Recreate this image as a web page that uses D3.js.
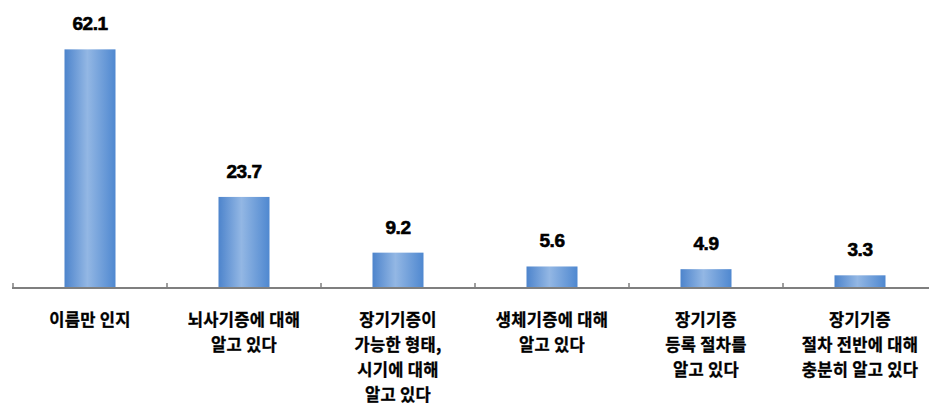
<!DOCTYPE html>
<html>
<head>
<meta charset="utf-8">
<script src="https://cdn.jsdelivr.net/npm/d3@7"></script>
<style>
  html, body { margin: 0; padding: 0; background: #fff; }
  svg { display: block; }
</style>
</head>
<body>
<svg id="chart" width="929" height="408"></svg>
<script>
const categories = [
  ["이름만 인지"],
  ["뇌사기증에 대해", "알고 있다"],
  ["장기기증이", "가능한 형태,", "시기에 대해", "알고 있다"],
  ["생체기증에 대해", "알고 있다"],
  ["장기기증", "등록 절차를", "알고 있다"],
  ["장기기증", "절차 전반에 대해", "충분히 알고 있다"]
];
const values = [62.1, 23.7, 9.2, 5.6, 4.9, 3.3];
const valueLabels = ["62.1", "23.7", "9.2", "5.6", "4.9", "3.3"];

const svg = d3.select("#chart");
const axisY = 288;
const x = d3.scaleBand().domain(d3.range(categories.length)).range([13, 937]).paddingInner(0).paddingOuter(0);
const y = d3.scaleLinear().domain([0, 70]).range([axisY, 19]);
const barW = 51;

const defs = svg.append("defs");
const grad = defs.append("linearGradient").attr("id", "barGrad").attr("x1", "0").attr("x2", "1").attr("y1", "0").attr("y2", "0");
grad.append("stop").attr("offset", "0%").attr("stop-color", "#4d84cc");
grad.append("stop").attr("offset", "45%").attr("stop-color", "#93b7e4");
grad.append("stop").attr("offset", "100%").attr("stop-color", "#4f88d0");

const g = svg.append("g");

g.selectAll("rect.bar").data(values).enter().append("rect")
  .attr("class", "bar")
  .attr("x", (d, i) => x(i) + x.bandwidth() / 2 - barW / 2)
  .attr("y", d => y(d))
  .attr("width", barW)
  .attr("height", d => axisY - y(d))
  .attr("fill", "url(#barGrad)");

// value labels above bars
g.selectAll("text.val").data(values).enter().append("text")
  .attr("class", "val")
  .attr("x", (d, i) => x(i) + x.bandwidth() / 2)
  .attr("y", d => y(d) - 19)
  .attr("text-anchor", "middle")
  .attr("font-family", "'Liberation Sans Narrow', 'Liberation Sans', sans-serif")
  .attr("font-weight", "bold")
  .attr("font-size", 19)
  .attr("letter-spacing", "-0.5px")
  .attr("stroke", "#000")
  .attr("stroke-width", 0.6)
  .attr("fill", "#000")
  .text((d, i) => valueLabels[i]);

// category axis
const axisG = g.append("g").attr("transform", `translate(0,${axisY})`);
axisG.append("line").attr("x1", 12).attr("x2", 929).attr("y1", 0).attr("y2", 0)
  .attr("stroke", "#7f7f7f").attr("stroke-width", 2);
axisG.selectAll("line.tick").data(d3.range(categories.length)).enter().append("line")
  .attr("class", "tick")
  .attr("x1", i => x(i)).attr("x2", i => x(i))
  .attr("y1", 0).attr("y2", -5)
  .attr("stroke", "#7f7f7f").attr("stroke-width", 1.5);

const labels = axisG.selectAll("text.cat").data(categories).enter().append("text")
  .attr("class", "cat")
  .attr("text-anchor", "middle")
  .attr("font-family", "'Noto Sans CJK KR', sans-serif")
  .attr("font-weight", "bold")
  .attr("font-size", 16.5)
  .attr("letter-spacing", "0.3px")
  .attr("stroke", "#000")
  .attr("stroke-width", 0.3)
  .attr("fill", "#000");
labels.each(function(lines, i) {
  const t = d3.select(this);
  lines.forEach((ln, k) => {
    t.append("tspan")
      .attr("x", x(i) + x.bandwidth() / 2)
      .attr("y", 38 + k * 25)
      .text(ln);
  });
});
</script>
</body>
</html>
